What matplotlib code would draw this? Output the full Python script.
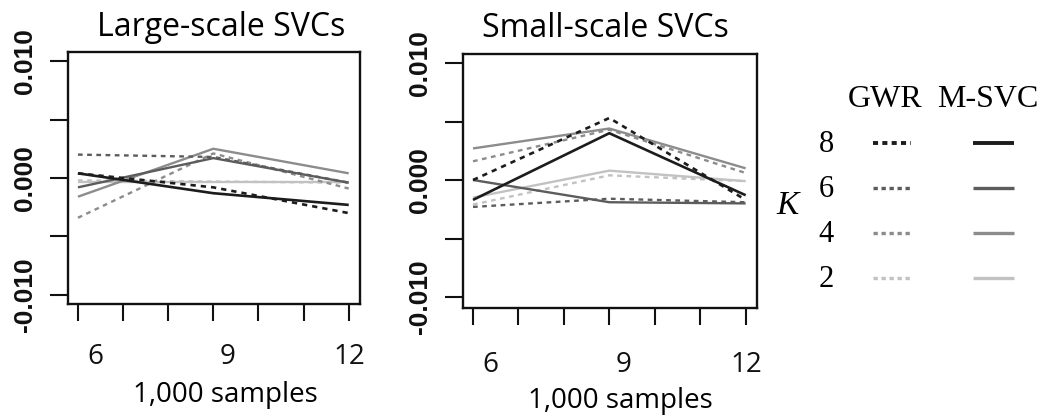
import matplotlib.pyplot as plt
from matplotlib.transforms import ScaledTranslation

# sample sizes (in 1,000s) and number of covariates
samples = [6, 9, 12]
k_values = [8, 6, 4, 2]
shades = ['#1c1c1c', '#5c5c5c', '#8c8c8c', '#c2c2c2']

# bias of the estimates, one row per K (8, 6, 4, 2)
large_gwr = [[0.0004, -0.0008, -0.0030],
             [0.0020, 0.0018, -0.0004],
             [-0.0034, 0.0021, -0.0009],
             [-0.0002, -0.0003, -0.0004]]
large_msvc = [[0.0004, -0.0013, -0.0023],
              [-0.0008, 0.0017, -0.0004],
              [-0.0016, 0.0025, 0.0004],
              [-0.0003, -0.0003, -0.0003]]
small_gwr = [[0.0000, 0.0053, -0.0017],
             [-0.0023, -0.0016, -0.0019],
             [0.0016, 0.0043, 0.0006],
             [-0.0021, 0.0004, -0.0001]]
small_msvc = [[-0.0017, 0.0040, -0.0013],
              [0.0000, -0.0019, -0.0020],
              [0.0027, 0.0044, 0.0010],
              [-0.0015, 0.0008, -0.0001]]

titles = ['Large-scale SVCs', 'Small-scale SVCs']
x_ticks = [6, 7, 8, 9, 10, 11, 12]
x_labels = ['6', '', '', '9', '', '', '12']
y_ticks = [-0.010, -0.005, 0.0, 0.005, 0.010]
y_labels = ['-0.010', '', '0.000', '', '0.010']

W, H = 1044, 416
fig = plt.figure(figsize=(W / 100, H / 100), dpi=100)

# axes boxes in pixels: left, top, right, bottom
boxes = [(68, 52, 360, 304), (463, 54, 757, 308)]
ylims = [(-0.01077, 0.01077), (-0.01094, 0.01077)]
title_pos = [(0.524, 16), (0.486, 17)]
xlabel_pos = [(225, 402), (620, 408)]
xtick_pad = [16, 19]
label_shift = [17, 14, 1]

panels = [(large_gwr, large_msvc), (small_gwr, small_msvc)]

for i, (gwr, msvc) in enumerate(panels):
    l, t, r, b = boxes[i]
    ax = fig.add_axes([l / W, 1 - b / H, (r - l) / W, (b - t) / H])

    for j in reversed(range(len(k_values))):
        lw = 1.9 if j == 0 else 1.7
        ax.plot(samples, msvc[j], color=shades[j], lw=lw,
                solid_capstyle='butt', zorder=3)
        ax.plot(samples, gwr[j], color=shades[j], lw=lw,
                linestyle=(0, (2.0, 1.9)), zorder=3)

    ax.set_xlim(5.78, 12.25)
    ax.set_ylim(*ylims[i])
    for s in ax.spines.values():
        s.set_linewidth(1.7)
        s.set_color('#111111')

    ax.set_xticks(x_ticks)
    ax.set_xticklabels(x_labels, fontfamily='Open Sans', fontsize=20)
    ax.set_yticks(y_ticks)
    ax.set_yticklabels(y_labels, fontfamily='Liberation Sans', fontweight='bold',
                       fontsize=19, rotation=90, va='center')
    ax.tick_params(axis='x', length=12, width=1.5, pad=xtick_pad[i], colors='#111111')
    ax.tick_params(axis='y', length=13, width=1.5, pad=9.5, colors='#111111')
    for lab, dx in zip([ax.get_xticklabels()[k] for k in (0, 3, 6)], label_shift):
        lab.set_transform(lab.get_transform() + ScaledTranslation(dx / 100, 0, fig.dpi_scale_trans))

    tx, dy = title_pos[i]
    ax.set_title(titles[i], fontfamily='Open Sans', fontsize=23, x=tx,
                 y=1 + dy / (b - t), pad=0, va='baseline')

    lx, ly = xlabel_pos[i]
    ax.set_xlabel('1,000 samples', fontfamily='Open Sans', fontsize=20)
    ax.xaxis.set_label_coords((lx - l) / (r - l), (b - ly) / (b - t))
    ax.xaxis.label.set_va('baseline')

# legend drawn in pixel space on the right
lax = fig.add_axes([0, 0, 1, 1])
lax.set_xlim(0, W)
lax.set_ylim(H, 0)
lax.axis('off')

serif = 'Liberation Serif'
lax.text(885, 107, 'GWR', fontfamily=serif, fontsize=23, ha='center', va='baseline')
lax.text(988, 107, 'M-SVC', fontfamily=serif, fontsize=23, ha='center', va='baseline')
lax.text(788, 214, 'K', fontfamily=serif, fontsize=24, style='italic', ha='center', va='baseline')
for j, k in enumerate(k_values):
    yrow = 143 + 45 * j
    lax.text(826, yrow + 9, str(k), fontfamily=serif, fontsize=22, ha='center', va='baseline')
    lw = 2.8 if j == 0 else 2.4
    lax.plot([873, 911], [yrow, yrow], color=shades[j], lw=lw, linestyle=(0, (1.3, 1.1)))
    lax.plot([973, 1014], [yrow, yrow], color=shades[j], lw=lw, solid_capstyle='butt')

fig.savefig('out.png', dpi=100)
